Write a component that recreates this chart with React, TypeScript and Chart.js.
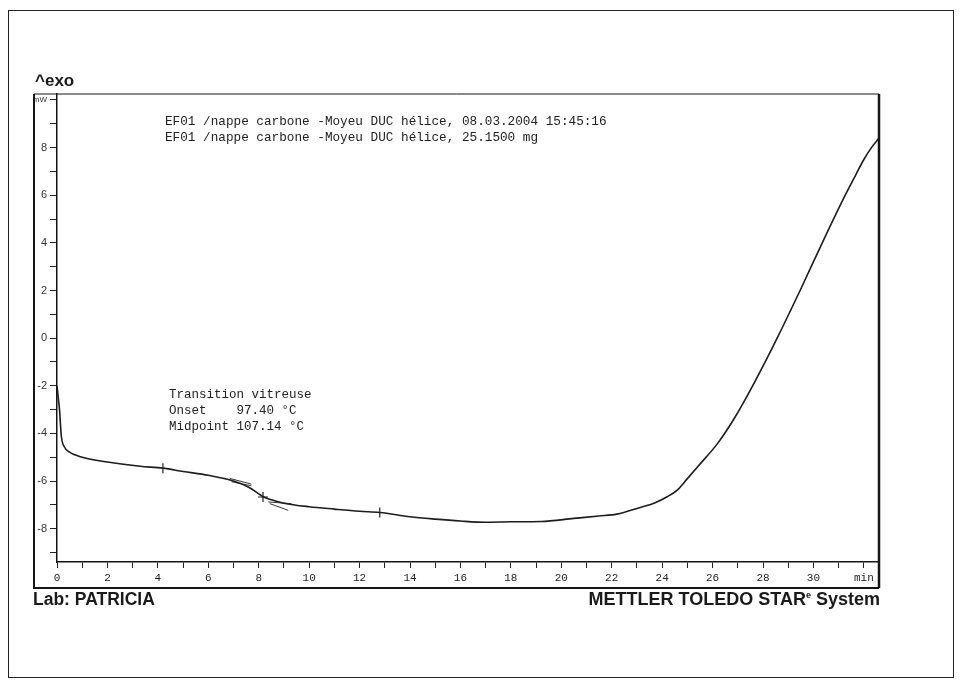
import React, { useEffect, useRef } from 'react';
import { Chart, registerables } from 'chart.js';

Chart.register(...registerables);

// DSC curve: time (min) vs heat flow (mW)
const timeMin = [0, 0.05, 0.1, 0.17, 0.3, 0.5, 1.0, 2.0, 3.3, 4.2, 5, 6, 7, 7.6, 8.2, 8.6, 9, 10, 11, 12, 12.8, 14, 15, 16, 17, 18, 19.2, 20.5, 21.5, 22.2, 23.1, 23.7, 24.2, 24.6, 25.0, 25.4, 26.2, 26.9, 27.7, 28.56, 29.47, 30.35, 31.26, 31.7, 32.0, 32.3, 32.6];
const heatFlowMW = [-2.0, -2.5, -3.0, -4.1, -4.58, -4.79, -5.0, -5.2, -5.38, -5.46, -5.6, -5.76, -6.0, -6.26, -6.67, -6.82, -6.93, -7.08, -7.18, -7.27, -7.32, -7.5, -7.6, -7.68, -7.73, -7.71, -7.7, -7.57, -7.47, -7.39, -7.12, -6.92, -6.66, -6.38, -5.9, -5.41, -4.42, -3.3, -1.78, 0.0, 2.0, 4.0, 6.0, 6.9, 7.5, 8.0, 8.4];

// Glass transition evaluation tangents (pairs of points)
const tangentA_T = [6.85, 7.71];
const tangentA_V = [-5.89, -6.13];
const tangentB_T = [6.92, 7.71];
const tangentB_V = [-6.03, -6.2];
const tangentC_T = [8.38, 9.3];
const tangentC_V = [-6.88, -6.95];
const tangentD_T = [8.44, 9.17];
const tangentD_V = [-6.95, -7.23];

// Evaluation markers: onset limit, midpoint, end limit
const markerT = [4.2, 8.17, 12.8];
const markerV = [-5.46, -6.67, -7.32];

const xTickLabelMin = 32;
const yTickLabelUnit = 10;

const headerLines = [
  'EF01 /nappe carbone -Moyeu DUC hélice, 08.03.2004 15:45:16',
  'EF01 /nappe carbone -Moyeu DUC hélice, 25.1500 mg',
];
const resultLines = ['Transition vitreuse', 'Onset    97.40 °C', 'Midpoint 107.14 °C'];

const toPts = (xs: number[], ys: number[]) => xs.map((x, i) => ({ x, y: ys[i] }));

export default function App() {
  const ref = useRef<HTMLCanvasElement>(null);

  useEffect(() => {
    if (!ref.current) return;
    const frame = {
      id: 'frame',
      afterDraw(chart: any) {
        const { ctx, chartArea: a } = chart;
        const left = a.left - 23;
        const bottom = a.bottom + 26;
        ctx.save();
        ctx.strokeStyle = '#151515';
        ctx.lineWidth = 2;
        ctx.beginPath();
        ctx.moveTo(left, a.top);
        ctx.lineTo(left, bottom);
        ctx.lineTo(a.right, bottom);
        ctx.stroke();
        ctx.lineWidth = 1;
        ctx.beginPath();
        ctx.moveTo(left, a.top);
        ctx.lineTo(a.right, a.top);
        ctx.stroke();
        ctx.lineWidth = 2.5;
        ctx.beginPath();
        ctx.moveTo(a.right, a.top);
        ctx.lineTo(a.right, bottom);
        ctx.stroke();
        ctx.restore();
      },
    };

    const seg = (xs: number[], ys: number[]) => ({
      data: toPts(xs, ys),
      showLine: true,
      borderColor: '#333',
      borderWidth: 1,
      pointRadius: 0,
    });

    const chart = new Chart(ref.current, {
      type: 'scatter',
      data: {
        datasets: [
          {
            data: toPts(timeMin, heatFlowMW),
            showLine: true,
            borderColor: '#1c1c1c',
            borderWidth: 1.6,
            pointRadius: 0,
            cubicInterpolationMode: 'monotone',
          } as any,
          seg(tangentA_T, tangentA_V),
          seg(tangentB_T, tangentB_V),
          seg(tangentC_T, tangentC_V),
          seg(tangentD_T, tangentD_V),
          {
            data: toPts(markerT, markerV),
            showLine: false,
            pointStyle: ['line', 'cross', 'line'],
            rotation: [90, 0, 90],
            pointRadius: 5,
            borderColor: '#222',
            borderWidth: 1.2,
          } as any,
        ],
      },
      options: {
        animation: false,
        responsive: true,
        maintainAspectRatio: false,
        layout: { padding: { left: 34, top: 94, right: 82, bottom: 98 } },
        plugins: { legend: { display: false }, tooltip: { enabled: false } },
        scales: {
          x: {
            type: 'linear',
            min: 0,
            max: 32.6,
            afterFit: (s: any) => {
              s.height = 26;
            },
            border: { display: true, color: '#151515', width: 1.5 },
            grid: { drawOnChartArea: false, drawTicks: true, tickLength: 6, color: '#222' },
            ticks: {
              stepSize: 1,
              includeBounds: false,
              autoSkip: false,
              maxRotation: 0,
              padding: 3,
              color: '#222',
              font: { family: 'Liberation Mono', size: 11 },
              callback: (v: any) => (v === xTickLabelMin ? 'min' : v % 2 === 0 ? String(v) : ''),
            },
          },
          y: {
            type: 'linear',
            min: -9.4,
            max: 10.25,
            afterFit: (s: any) => {
              s.width = 23;
            },
            border: { display: true, color: '#151515', width: 1.5 },
            grid: { drawOnChartArea: false, drawTicks: true, tickLength: 7, color: '#222' },
            ticks: {
              stepSize: 1,
              includeBounds: false,
              autoSkip: false,
              padding: 3,
              color: '#333',
              font: (c: any) =>
                c.tick && c.tick.value === yTickLabelUnit
                  ? { family: 'Liberation Sans', size: 8 }
                  : { family: 'Liberation Sans', size: 11 },
              callback: (v: any) => (v === yTickLabelUnit ? 'mW' : v % 2 === 0 ? String(v) : ''),
            },
          },
        },
      } as any,
      plugins: [frame],
    });
    return () => chart.destroy();
  }, []);

  const mono: React.CSSProperties = {
    position: 'absolute',
    fontFamily: '"Liberation Mono", monospace',
    fontSize: 12.7,
    lineHeight: '16px',
    color: '#222',
    whiteSpace: 'pre',
    margin: 0,
  };
  const bold: React.CSSProperties = {
    position: 'absolute',
    fontFamily: '"Liberation Sans", Arial, sans-serif',
    fontWeight: 'bold',
    fontSize: 17,
    lineHeight: '17px',
    color: '#1a1a1a',
    whiteSpace: 'pre',
    margin: 0,
  };

  return (
    <div style={{ position: 'absolute', left: 0, top: 0, width: 961, height: 686, background: '#fff', overflow: 'hidden' }}>
      <div style={{ position: 'absolute', left: 8, top: 10, width: 944, height: 666, border: '1px solid #222' }} />
      <div style={{ position: 'absolute', left: 0, top: 0, width: 961, height: 686 }}>
        <canvas ref={ref} />
      </div>
      <div style={{ ...bold, left: 35, top: 72 }}>^exo</div>
      <div style={{ ...mono, left: 165, top: 114 }}>{headerLines.join('\n')}</div>
      <div style={{ ...mono, left: 169, top: 387, fontSize: 12.5 }}>{resultLines.join('\n')}</div>
      <div style={{ ...bold, left: 33, top: 591, fontSize: 17.5 }}>Lab: PATRICIA</div>
      <div style={{ ...bold, right: 961 - 880, top: 591, fontSize: 18 }}>
        METTLER TOLEDO STAR<sup style={{ fontSize: 9, verticalAlign: 'top', lineHeight: '9px' }}>e</sup> System
      </div>
    </div>
  );
}
